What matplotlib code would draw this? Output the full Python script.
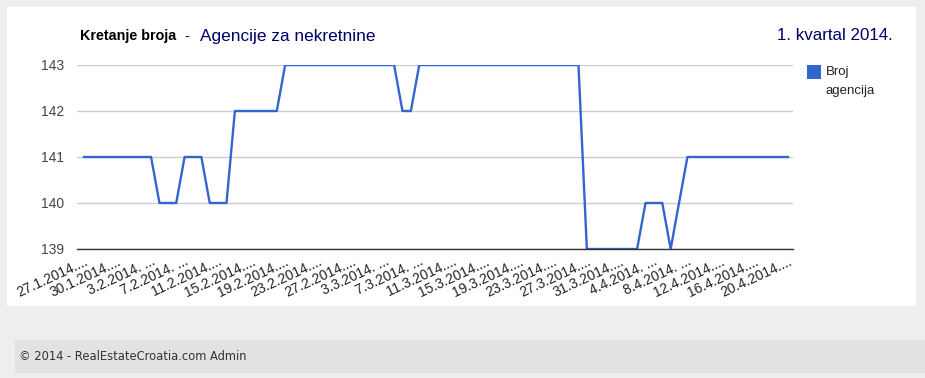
import matplotlib
matplotlib.use("Agg")
import matplotlib.pyplot as plt
from matplotlib.patches import Rectangle

matplotlib.rcParams['font.family'] = ['Liberation Sans', 'DejaVu Sans']

# broj agencija po danu (85 mjerenja, 27.1.2014. - 20.4.2014.)
broj_agencija = [
    141, 141, 141, 141, 141, 141, 141, 141, 141,
    140, 140, 140,
    141, 141, 141,
    140, 140, 140,
    142, 142, 142, 142, 142, 142,
    143, 143, 143, 143, 143, 143, 143, 143, 143, 143, 143, 143, 143, 143,
    142, 142,
    143, 143, 143, 143, 143, 143, 143, 143, 143, 143,
    143, 143, 143, 143, 143, 143, 143, 143, 143, 143,
    139, 139, 139, 139, 139, 139, 139,
    140, 140, 140,
    139,
    140,
    141, 141, 141, 141, 141, 141, 141, 141, 141, 141, 141, 141, 141,
]

# oznake na x osi (svaka 4. tocka)
x_oznake = [
    "27.1.2014....", "30.1.2014....", "3.2.2014. ...", "7.2.2014. ...",
    "11.2.2014....", "15.2.2014....", "19.2.2014....", "23.2.2014....",
    "27.2.2014....", "3.3.2014. ...", "7.3.2014. ...", "11.3.2014....",
    "15.3.2014....", "19.3.2014....", "23.3.2014....", "27.3.2014....",
    "31.3.2014....", "4.4.2014. ...", "8.4.2014. ...", "12.4.2014....",
    "16.4.2014....", "20.4.2014....",
]
y_ticks = [139, 140, 141, 142, 143]

W, H = 925, 378
fig = plt.figure(figsize=(W / 100, H / 100), dpi=100)
fig.patch.set_facecolor('#eeeeee')

def px_rect(x0, y0, x1, y1, color):
    fig.patches.append(Rectangle((x0 / W, 1 - y1 / H), (x1 - x0) / W, (y1 - y0) / H,
                                 transform=fig.transFigure, facecolor=color,
                                 edgecolor='none', zorder=-10))

px_rect(7, 7, 916, 306, 'white')
px_rect(15, 340, 925, 373, '#e2e2e2')

ax = fig.add_axes([77 / W, 1 - 249 / H, (793 - 77) / W, (249 - 65) / H])
ax.set_facecolor('none')

x = list(range(len(broj_agencija)))
ax.plot(x, broj_agencija, color='#3366cc', lw=1.7, zorder=3)

ax.set_ylim(139, 143)
ax.set_xlim(-0.84, len(broj_agencija) - 1 + 0.6)
ax.set_yticks(y_ticks)
ax.set_yticklabels([str(v) for v in y_ticks], fontsize=10, color='#444444')
ax.set_xticks(x[::4])
ax.set_xticklabels(x_oznake, rotation=25, ha='right', va='top',
                   rotation_mode='anchor', fontsize=10, color='#222222')
ax.tick_params(axis='both', length=0)
ax.tick_params(axis='y', pad=9.5)
ax.tick_params(axis='x', pad=4)
ax.grid(axis='y', color='#cccccc', lw=1)
for s in ['top', 'right', 'left']:
    ax.spines[s].set_visible(False)
ax.spines['bottom'].set_color('#333333')
ax.spines['bottom'].set_linewidth(1)
ax.spines['bottom'].set_zorder(4)

# naslovi
fig.text(80 / W, 1 - 36 / H, "Kretanje broja", fontsize=10.3, fontweight='bold',
         color='black', va='center', ha='left')
fig.text(184 / W, 1 - 36 / H, "-", fontsize=10.5, color='#000066', va='center', ha='left')
fig.text(200 / W, 1 - 36 / H, "Agencije za nekretnine", fontsize=12.4,
         color='#000066', va='center', ha='left')
fig.text(893 / W, 1 - 36 / H, "1. kvartal 2014.", fontsize=12.2,
         color='#000066', va='center', ha='right')

# legenda
fig.patches.append(Rectangle((807 / W, 1 - 79 / H), 14 / W, 14 / H,
                             transform=fig.transFigure, facecolor='#3366cc',
                             edgecolor='none'))
fig.text(826 / W, 1 - 72 / H, "Broj", fontsize=9.5, color='#222222', va='center')
fig.text(826 / W, 1 - 91 / H, "agencija", fontsize=9.5, color='#222222', va='center')

# podnozje
fig.text(19 / W, 1 - 357 / H, "\u00a9 2014 - RealEstateCroatia.com Admin",
         fontsize=8.3, color='#333333', va='center', family=['DejaVu Sans'])

fig.savefig('out.png', dpi=100, facecolor=fig.get_facecolor())
